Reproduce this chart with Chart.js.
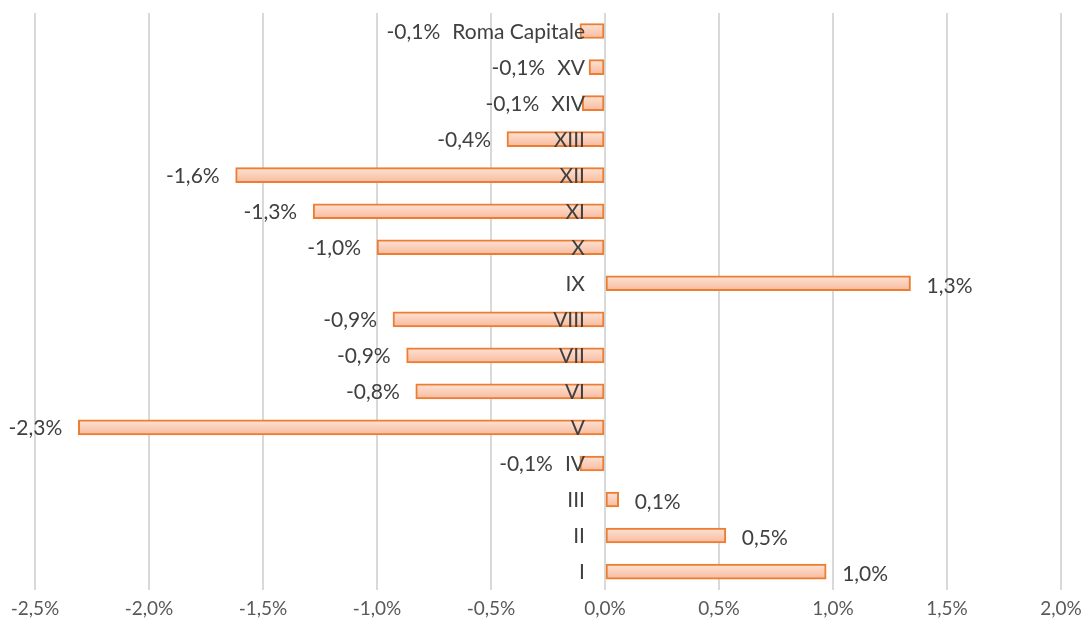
<!DOCTYPE html>
<html lang="it">
<head>
<meta charset="UTF-8">
<title>Variazione per municipio</title>
<script src="https://cdn.jsdelivr.net/npm/chart.js"></script>
<style>
  body { margin: 0; background: #fff; }
</style>
</head>
<body>
<canvas id="grafico" width="1085" height="629"></canvas>
<script>
// dati (variazione %)
var municipi = ['Roma Capitale', 'XV', 'XIV', 'XIII', 'XII', 'XI', 'X', 'IX', 'VIII', 'VII', 'VI', 'V', 'IV', 'III', 'II', 'I'];
var variazioni = [-0.11, -0.07, -0.10, -0.43, -1.62, -1.28, -1.00, 1.34, -0.93, -0.87, -0.83, -2.31, -0.11, 0.06, 0.53, 0.97];
var asseMin = -2.5;
var asseMax = 2.0;
var passo = 0.5;

var fontNome = 'Lato, "Open Sans", sans-serif';
var coloreTesto = '#404040';

function percento(v) {
    return v.toFixed(1).replace('.', ',') + '%';
}

// etichette categoria sullo zero e valori a fine barra
var etichette = {
    id: 'etichette',
    afterDatasetsDraw: function (chart) {
        var ctx = chart.ctx;
        var x = chart.scales.x, y = chart.scales.y;
        var x0 = x.getPixelForValue(0);
        ctx.save();
        ctx.font = '21px ' + fontNome;
        ctx.fillStyle = coloreTesto;
        ctx.textBaseline = 'middle';
        for (var i = 0; i < municipi.length; i++) {
            var py = y.getPixelForValue(i);
            var v = variazioni[i];
            var xe = x.getPixelForValue(v);
            ctx.textAlign = 'right';
            var catX = x0 - 20;
            ctx.fillText(municipi[i], catX, py + 1);
            var testo = percento(v);
            if (v >= 0) {
                ctx.textAlign = 'left';
                ctx.fillText(testo, xe + 16, py + 3);
            } else {
                ctx.textAlign = 'right';
                var fine = xe - 16;
                var larg = ctx.measureText(municipi[i]).width;
                if (fine > catX - larg - 12) fine = catX - larg - 12;
                ctx.fillText(testo, fine, py + 1);
            }
        }
        ctx.restore();
    }
};

var ctx = document.getElementById('grafico').getContext('2d');
var grafico = new Chart(ctx, {
    type: 'bar',
    data: {
        labels: municipi,
        datasets: [{
            data: variazioni,
            backgroundColor: function (c) {
                var chart = c.chart;
                if (!chart.chartArea || c.dataIndex === undefined) return '#FBCDB6';
                var py = chart.scales.y.getPixelForValue(c.dataIndex);
                var g = chart.ctx.createLinearGradient(0, py - 7, 0, py + 7);
                g.addColorStop(0, '#FDE2D4');
                g.addColorStop(1, '#F8BB9E');
                return g;
            },
            borderColor: '#ED7D31',
            borderWidth: 2,
            borderSkipped: false,
            barThickness: 15
        }]
    },
    options: {
        responsive: false,
        animation: false,
        indexAxis: 'y',
        layout: { padding: { left: 0, right: 0, top: 13, bottom: 0 } },
        plugins: {
            legend: { display: false },
            tooltip: { enabled: false }
        },
        scales: {
            x: {
                min: asseMin,
                max: asseMax,
                border: { display: false },
                grid: { color: '#D9D9D9', lineWidth: 2, drawTicks: false },
                afterFit: function (s) {
                    s.paddingLeft = 35;
                    s.paddingRight = 24;
                },
                ticks: {
                    stepSize: passo,
                    padding: 14,
                    color: '#595959',
                    font: { size: 19, family: fontNome, lineHeight: 0.6 },
                    callback: function (v) { return percento(v); }
                }
            },
            y: {
                display: false,
                offset: true
            }
        }
    },
    plugins: [etichette]
});
</script>
</body>
</html>
